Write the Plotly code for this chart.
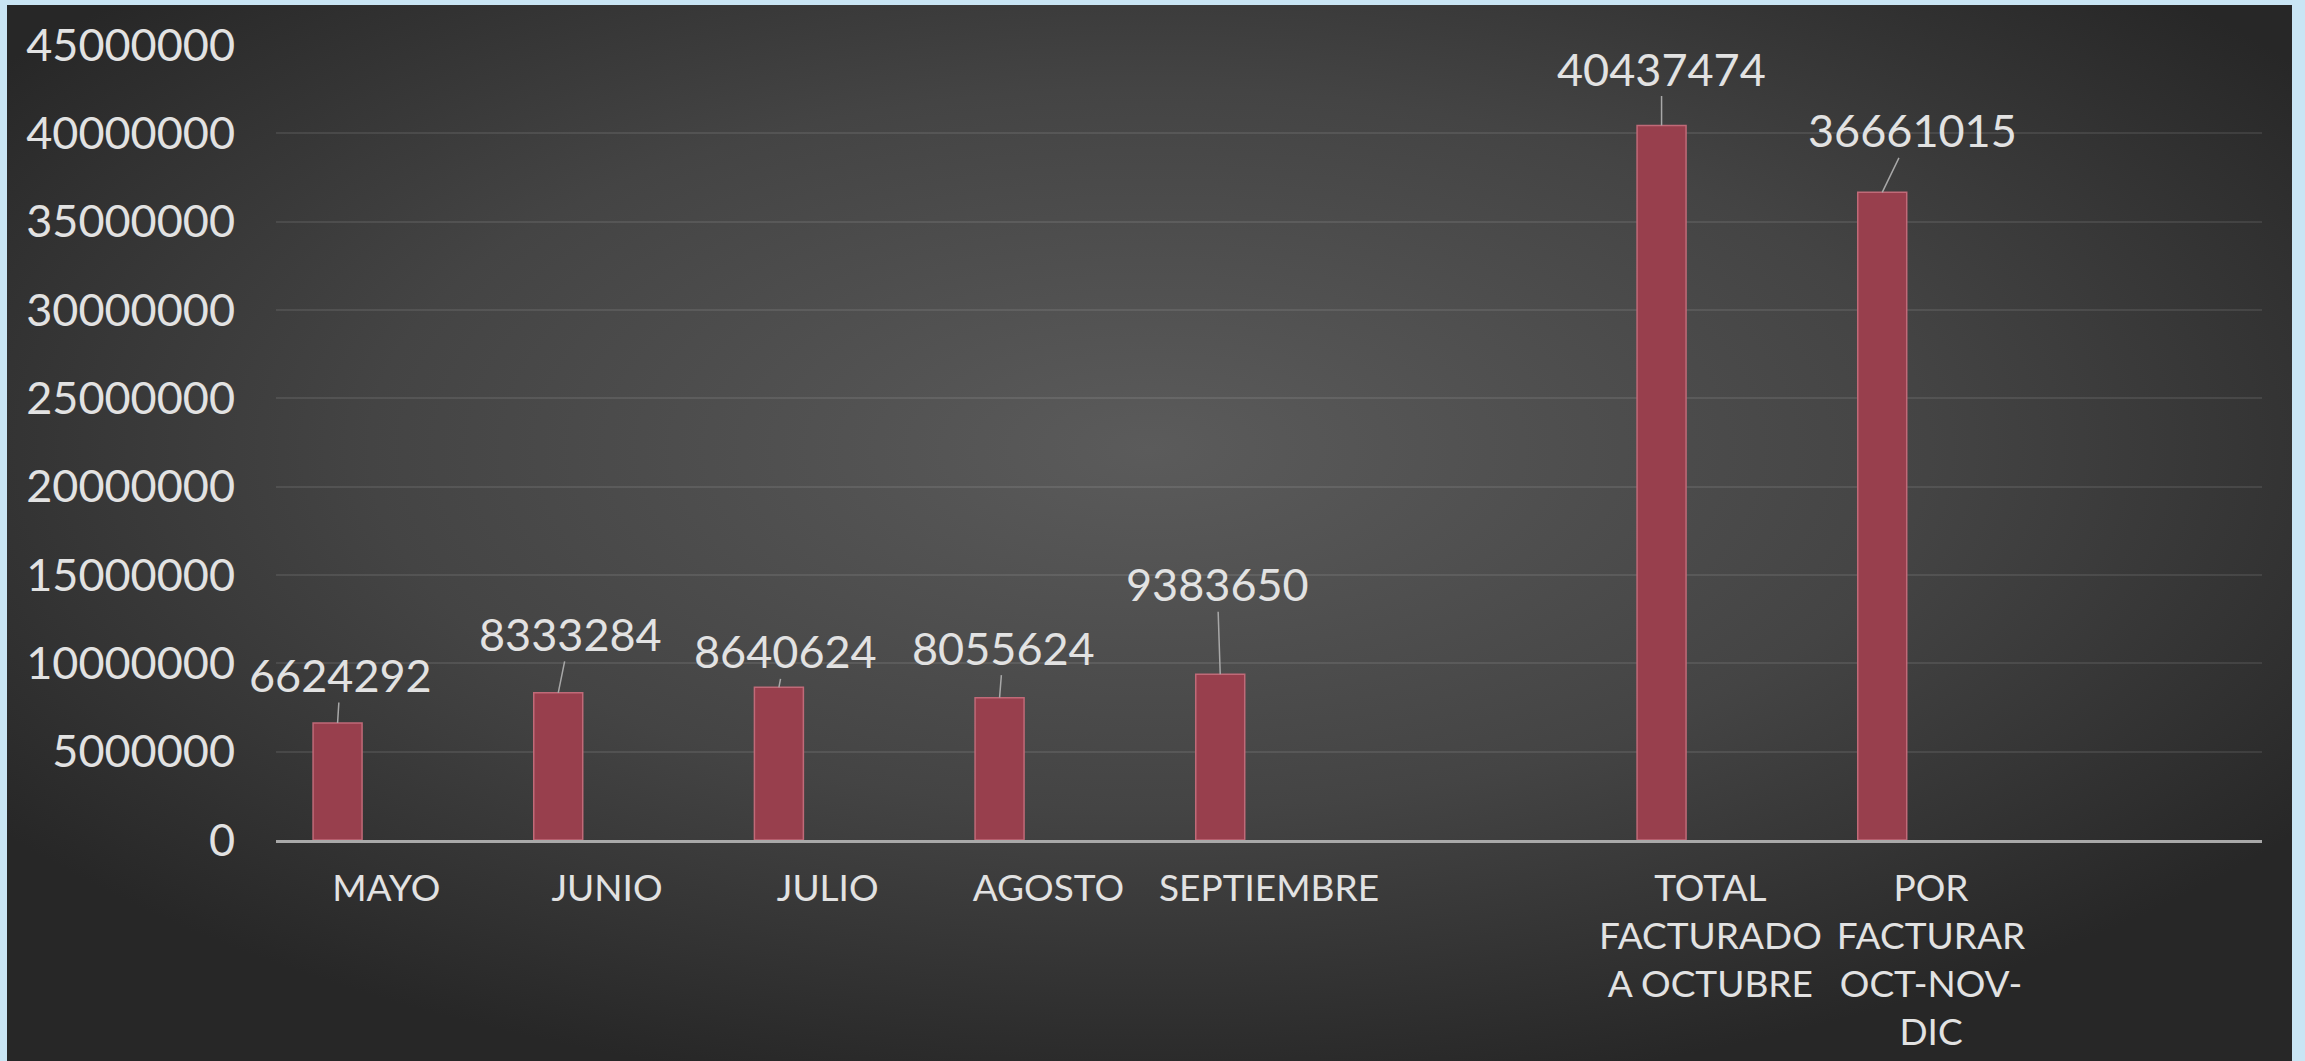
import base64
import plotly.graph_objects as go

# ---- data ----
categories = ["MAYO", "JUNIO", "JULIO", "AGOSTO", "SEPTIEMBRE", "",
              "TOTAL<br>FACTURADO<br>A OCTUBRE", "POR<br>FACTURAR<br>OCT-NOV-<br>DIC", " "]
bar_slots = [0, 1, 2, 3, 4, 6, 7]
values = [6624292, 8333284, 8640624, 8055624, 9383650, 40437474, 36661015]
y_ticks = [0, 5000000, 10000000, 15000000, 20000000, 25000000, 30000000, 35000000, 40000000, 45000000]

# ---- label placement (pixel offsets of value labels from bar tops) ----
label_dx = [3, 12, 7, 4, -3, 0, 30]
label_dy = [-48, -59, -36, -50, -90, -57, -62]

W, H = 2305, 1061
ML, MR, MT, MB = 276, 43, 45, 221
BAR_W = 0.222
BAR_OFF = -0.332

bg_svg = f'''<svg xmlns="http://www.w3.org/2000/svg" width="2285" height="1056" viewBox="0 0 2285 1056" preserveAspectRatio="none">
<defs><radialGradient id="g" cx="50%" cy="42%" r="62%">
<stop offset="0" stop-color="#5b5b5b"/><stop offset="0.55" stop-color="#444444"/><stop offset="1" stop-color="#272727"/>
</radialGradient></defs><rect width="2285" height="1056" fill="url(#g)"/></svg>'''
bg_uri = "data:image/svg+xml;base64," + base64.b64encode(bg_svg.encode()).decode()

pw = W - ML - MR
ph = H - MT - MB

fig = go.Figure()
fig.add_trace(go.Bar(
    x=bar_slots, y=values, width=BAR_W, offset=BAR_OFF,
    marker=dict(color="#983f4d", line=dict(color="#c06a78", width=1.5)),
    hoverinfo="skip",
))

label_font = dict(family="Lato, Noto Sans, sans-serif", size=45, color="#e2e2e2")
for i, (s, v) in enumerate(zip(bar_slots, values)):
    fig.add_annotation(
        x=s + BAR_OFF + BAR_W / 2, y=v, xref="x", yref="y",
        text=str(v), showarrow=True, arrowhead=0, arrowwidth=1.5,
        arrowcolor="#a8a8a8", ax=label_dx[i], ay=label_dy[i],
        font=label_font, standoff=0, startstandoff=0, borderpad=0,
    )

fig.update_layout(
    width=W, height=H,
    margin=dict(l=ML, r=MR, t=MT, b=MB, autoexpand=False),
    paper_bgcolor="#c9e5f4",
    plot_bgcolor="rgba(0,0,0,0)",
    showlegend=False,
    font=label_font,
    images=[dict(
        source=bg_uri, xref="paper", yref="paper",
        x=(7 - ML) / pw, y=(H - MB - 5) / ph,
        sizex=2285 / pw, sizey=1056 / ph,
        sizing="stretch", xanchor="left", yanchor="top", layer="below",
    )],
    xaxis=dict(
        range=[-0.5, 8.5], tickmode="array", tickvals=list(range(len(categories))),
        ticktext=categories, showgrid=False, zeroline=False, automargin=False,
        showline=True, linecolor="#a9a9a9", linewidth=2.5, ticks="",
        tickfont=dict(family="Lato, Noto Sans, sans-serif", size=37, color="#e2e2e2"),
        ticklabelstandoff=14,
    ),
    yaxis=dict(
        range=[0, 45000000], tickmode="array", tickvals=y_ticks,
        ticktext=[str(t) for t in y_ticks], showgrid=True, automargin=False,
        gridcolor="rgba(255,255,255,0.09)", gridwidth=2, zeroline=False,
        showline=False, ticks="",
        tickfont=dict(family="Lato, Noto Sans, sans-serif", size=45, color="#e2e2e2"),
        ticklabelstandoff=40,
    ),
)

fig.write_html("out.html")
